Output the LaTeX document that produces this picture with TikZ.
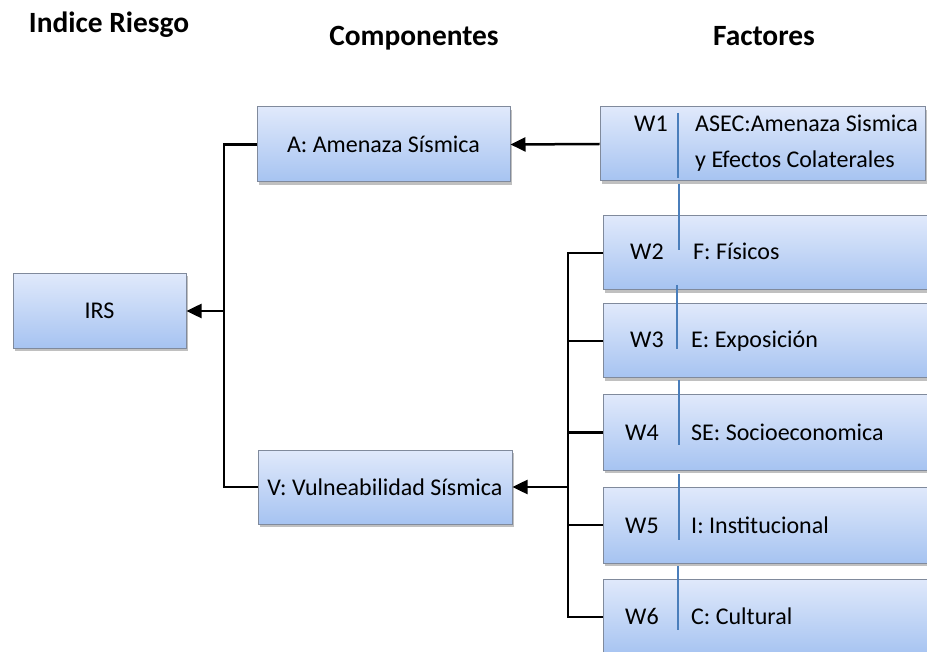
\documentclass[tikz,border=0pt]{standalone}
\usepackage{fontspec}
\setmainfont{Carlito}
\usetikzlibrary{arrows.meta,shadows}
\definecolor{boxtop}{RGB}{224,233,251}
\definecolor{boxbot}{RGB}{166,195,241}
\definecolor{boxedge}{RGB}{128,138,156}
\definecolor{divider}{RGB}{74,126,187}
\tikzset{
  box/.style={rectangle, draw=boxedge, line width=1pt, top color=boxtop, bottom color=boxbot,
    drop shadow={shadow xshift=2pt, shadow yshift=-3pt, opacity=0.35, fill=black!70},
    inner sep=0pt, font=\fontsize{24}{28}\selectfont},
  wlabel/.style={inner sep=0pt, anchor=base, font=\fontsize{24}{28}\selectfont},
  ftext/.style={inner sep=0pt, anchor=base west, font=\fontsize{24}{28}\selectfont},
  link/.style={line width=2.5pt, black},
  arr/.style={link, -{Triangle[length=15pt,width=14pt]}},
  sep/.style={divider, line width=2pt},
  heading/.style={font=\bfseries\fontsize{29.4}{34}\selectfont, inner sep=0pt}
}
\begin{document}
\begin{tikzpicture}[x=1pt, y=-1pt]
\clip (0,0) rectangle (927,652);
\fill[white] (0,0) rectangle (927,652);

% column headings
\node[heading] (hIR) at (109,25) {Indice Riesgo};
\node[heading] (hC) at (414,38) {Componentes};
\node[heading] (hF) at (764,36) {Factores};

% index and components
\node[box, minimum width=173pt, minimum height=75pt] (IRS) at (99.5,311) {IRS};
\node[box, minimum width=253pt, minimum height=75pt] (A) at (383.5,144.5) {A: Amenaza Sísmica};
\node[box, minimum width=254pt, minimum height=74pt] (V) at (385,487) {V: Vulneabilidad Sísmica};

% factor boxes
\node[box, minimum width=325pt, minimum height=74pt] (W1) at (762.5,144) {};
\node[box, minimum width=340pt, minimum height=74pt] (W2) at (773,253) {};
\node[box, minimum width=340pt, minimum height=74pt] (W3) at (773,341) {};
\node[box, minimum width=340pt, minimum height=75pt] (W4) at (773,432.5) {};
\node[box, minimum width=340pt, minimum height=76pt] (W5) at (773,525) {};
\node[box, minimum width=340pt, minimum height=76pt] (W6) at (773,617) {};

% weights and factor names (placed on their baselines)
\node[wlabel] (l1) at (651,132) {W1};
\node[ftext] (t1a) at (695,132) {ASEC:Amenaza Sismica};
\node[ftext] (t1b) at (695,168) {y Efectos Colaterales};
\node[wlabel] (l2) at (647,260) {W2};
\node[ftext] (t2) at (693,260) {F: Físicos};
\node[wlabel] (l3) at (647,348) {W3};
\node[ftext] (t3) at (691,348) {E: Exposición};
\node[wlabel] (l4) at (642,440) {W4};
\node[ftext] (t4) at (691,440) {SE: Socioeconomica};
\node[wlabel] (l5) at (642,533) {W5};
\node[ftext] (t5) at (691,533) {I: Institucional};
\node[wlabel] (l6) at (642,624) {W6};
\node[ftext] (t6) at (691,624) {C: Cultural};

% divider strokes between weight and name
\draw[sep] (678,113) -- (678,178);
\draw[sep] (679,184) -- (679,250);
\draw[sep] (677,285) -- (677,349);
\draw[sep] (679,380) -- (679,445);
\draw[sep] (679,474) -- (679,540);
\draw[sep] (678,566) -- (678,630);

% connectors
\coordinate (jL) at (224,311);
\coordinate (jR) at (568,487);
\draw[arr] (W1.west) -- (A.east);
\draw[link] (A.west) -| (jL);
\draw[link] (V.west) -| (jL);
\draw[arr] (jL) -- (IRS.east);
\foreach \w in {W2,W3,W4,W5,W6}{
  \draw[link] (\w.west) -| (jR);
}
\draw[arr] (jR) -- (V.east);
\end{tikzpicture}
\end{document}
